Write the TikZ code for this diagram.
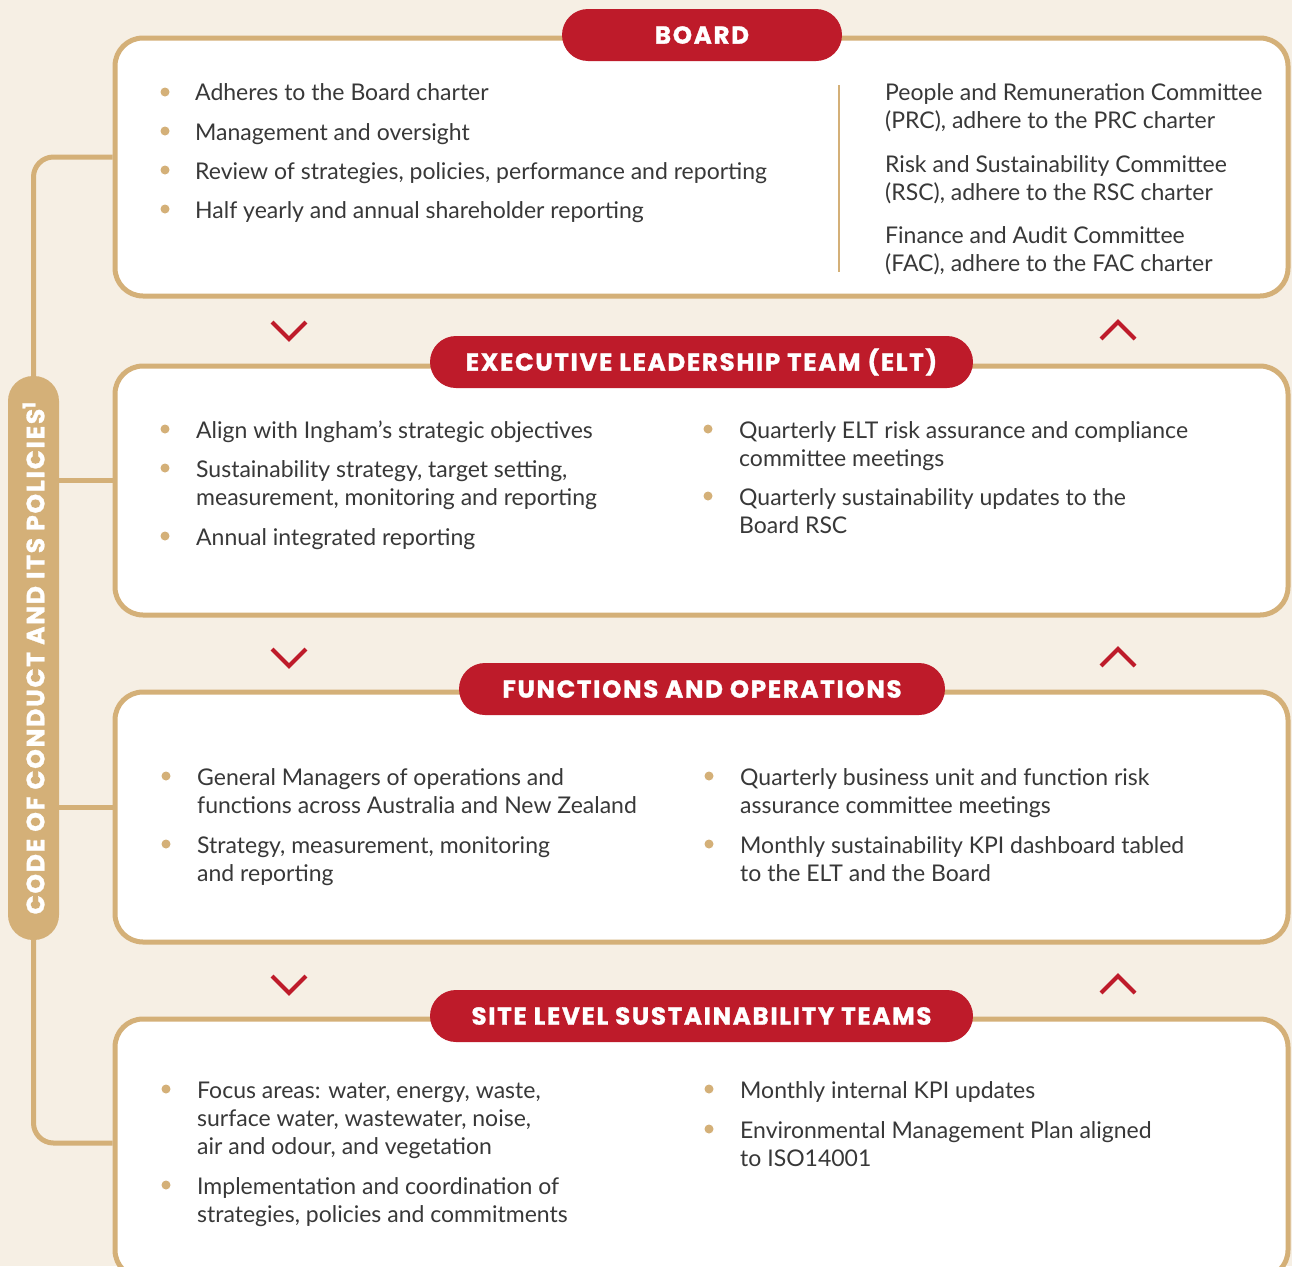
\documentclass[tikz,border=0pt]{standalone}
\usepackage{fontspec}
\setmainfont{Lato}
\newfontfamily\titlefont{Poppins}[LetterSpace=7, BoldFeatures={FakeBold=1.2}]
\definecolor{bgc}{HTML}{F6EFE4}
\definecolor{gold}{HTML}{D4B078}
\definecolor{redc}{HTML}{BE1B2A}
\definecolor{txt}{HTML}{383838}
\tikzset{
  panel/.style={draw=gold, line width=5pt, fill=white, rounded corners=28pt, minimum width=1173pt, inner sep=0pt},
  pill/.style={fill=redc, rounded corners=26pt, minimum height=52pt, inner sep=0pt, text=white, font=\titlefont\bfseries\fontsize{24.5}{26}\selectfont},
  conn/.style={draw=gold, line width=5pt},
  chev/.style={draw=redc, line width=4pt},
  item/.style={anchor=base west, inner sep=0pt, text=txt, font=\fontsize{23}{28}\selectfont},
  dot/.style={circle, fill=gold, inner sep=0pt, minimum size=9pt},
}
\begin{document}
\begin{tikzpicture}[x=1pt,y=-1pt]
\fill[bgc] (0,0) rectangle (1292,1266);
\useasboundingbox (0,0) rectangle (1292,1266);
\clip (0,0) rectangle (1292,1266);

% side pill
\node[fill=gold, rounded corners=25pt, minimum width=564pt, minimum height=51pt, inner sep=0pt, rotate=90, text=white, font=\titlefont\bfseries\fontsize{25}{26}\selectfont] (code) at (33.5,658) {CODE OF CONDUCT AND ITS POLICIES\textsuperscript{1}};

% panels
\node[panel, minimum height=258pt] (board) at (701.5,167) {};
\node[panel, minimum height=249pt] (elt) at (701.5,490.5) {};
\node[panel, minimum height=250pt] (fo) at (701.5,817) {};
\node[panel, minimum height=259pt] (site) at (701.5,1148.5) {};

% connectors from side pill
\draw[conn, rounded corners=20pt] (code.east) |- ([yshift=10pt]board.west);
\draw[conn, rounded corners=20pt] (code.west) |- ([yshift=5.5pt]site.west);
\draw[conn] (code.south |- 0,480) -- (elt.west |- 0,480);
\draw[conn] (code.south |- 0,807) -- (fo.west |- 0,807);

% titles
\node[pill, minimum width=280pt] (tboard) at (702,35) {BOARD};
\node[pill, minimum width=543pt] (telt) at (701.5,362) {EXECUTIVE LEADERSHIP TEAM (ELT)};
\node[pill, minimum width=486pt] (tfo) at (702,689) {FUNCTIONS AND OPERATIONS};
\node[pill, minimum width=543pt] (tsite) at (701.5,1016) {SITE LEVEL SUSTAINABILITY TEAMS};

% chevrons
\foreach \y in {322,649,976}{
  \draw[chev] (272,\y) -- (289,\y+17) -- (306,\y);
  \draw[chev] (1101,\y+17) -- (1118,\y) -- (1135,\y+17);
}

% divider in board
\draw[draw=gold, line width=2.5pt] (839,85) -- (839,272);

% Board left items
\node[dot] (d1) at (165,92) {};
\node[item] (b1) at (195,100) {Adheres to the Board charter};
\node[dot] (d2) at (165,131) {};
\node[item] (b2) at (195,140) {Management and oversight};
\node[dot] (d3) at (165,170) {};
\node[item] (b3) at (195,179) {Review of strategies, policies, performance and reporting};
\node[dot] (d4) at (165,209) {};
\node[item] (b4) at (195,218) {Half yearly and annual shareholder reporting};
% Board right
\node[item] (r1) at (885,100) {People and Remuneration Committee};
\node[item] (r2) at (885,128) {(PRC), adhere to the PRC charter};
\node[item] (r3) at (885,172) {Risk and Sustainability Committee};
\node[item] (r4) at (885,200) {(RSC), adhere to the RSC charter};
\node[item] (r5) at (885,243) {Finance and Audit Committee};
\node[item] (r6) at (885,271) {(FAC), adhere to the FAC charter};

% ELT
\node[dot] (e1d) at (165,429) {};
\node[item] (e1) at (196,438) {Align with Ingham’s strategic objectives};
\node[dot] (e2d) at (165,468) {};
\node[item] (e2) at (196,477) {Sustainability strategy, target setting,};
\node[item] (e2b) at (196,505) {measurement, monitoring and reporting};
\node[dot] (e3d) at (165,536) {};
\node[item] (e3) at (196,545) {Annual integrated reporting};
\node[dot] (e4d) at (708,429) {};
\node[item] (e4) at (739,438) {Quarterly ELT risk assurance and compliance};
\node[item] (e4b) at (739,466) {committee meetings};
\node[dot] (e5d) at (708,496) {};
\node[item] (e5) at (739,505) {Quarterly sustainability updates to the};
\node[item] (e5b) at (739,533) {Board RSC};

% F&O
\node[dot] (f1d) at (166,776) {};
\node[item] (f1) at (197,785) {General Managers of operations and};
\node[item] (f1b) at (197,813) {functions across Australia and New Zealand};
\node[dot] (f2d) at (166,844) {};
\node[item] (f2) at (197,853) {Strategy, measurement, monitoring};
\node[item] (f2b) at (197,881) {and reporting};
\node[dot] (f3d) at (709,776) {};
\node[item] (f3) at (740,785) {Quarterly business unit and function risk};
\node[item] (f3b) at (740,813) {assurance committee meetings};
\node[dot] (f4d) at (709,844) {};
\node[item] (f4) at (740,853) {Monthly sustainability KPI dashboard tabled};
\node[item] (f4b) at (740,881) {to the ELT and the Board};

% Site
\node[dot] (s1d) at (166,1089) {};
\node[item] (s1) at (197,1098) {Focus areas: water, energy, waste,};
\node[item] (s1b) at (197,1126) {surface water, wastewater, noise,};
\node[item] (s1c) at (197,1154) {air and odour, and vegetation};
\node[dot] (s2d) at (166,1185) {};
\node[item] (s2) at (197,1194) {Implementation and coordination of};
\node[item] (s2b) at (197,1222) {strategies, policies and commitments};
\node[dot] (s3d) at (709,1089) {};
\node[item] (s3) at (740,1098) {Monthly internal KPI updates};
\node[dot] (s4d) at (709,1129) {};
\node[item] (s4) at (740,1138) {Environmental Management Plan aligned};
\node[item] (s4b) at (740,1166) {to ISO14001};
\end{tikzpicture}
\end{document}
